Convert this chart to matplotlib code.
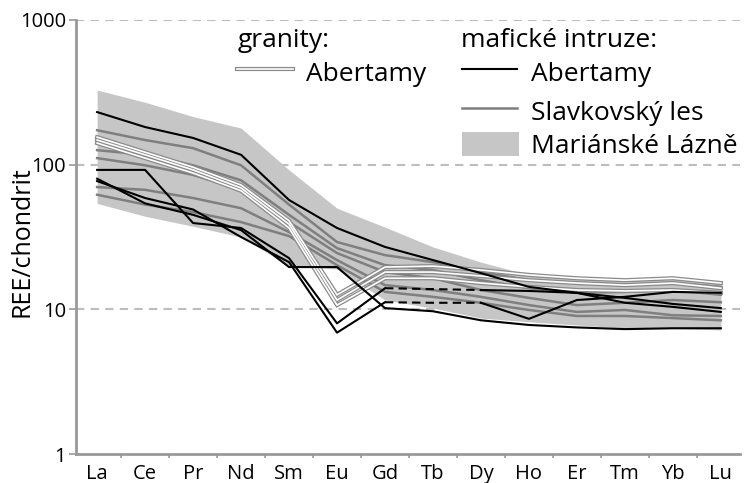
import numpy as np
import matplotlib
matplotlib.use('Agg')
import matplotlib.pyplot as plt
from matplotlib.lines import Line2D
from matplotlib.patches import Rectangle

plt.rcParams['font.family'] = ['Open Sans', 'DejaVu Sans']

# ── Data (chondrite-normalised REE) ──────────────────────────────────────────
ree = ['La', 'Ce', 'Pr', 'Nd', 'Sm', 'Eu', 'Gd', 'Tb', 'Dy', 'Ho', 'Er', 'Tm', 'Yb', 'Lu']

# Mariánské Lázně field (envelope)
ml_upper = [328, 270, 215, 179, 92, 50, 37, 27, 21.2, 17.3, 16.4, 15.9, 16.4, 15.5]
ml_lower = [54, 44, 37.5, 31.6, 19.9, 19.0, 11.6, 10.2, 8.7, 8.2, 7.8, 7.4, 7.4, 7.2]

# Slavkovský les (grey lines)
sl_1 = [173, 148, 130, 99, 53, 29.2, 23.7, 21.2, 18.1, 15.9, 15.2, 14.7, 15.2, 14.3]
sl_2 = [126, 117, 99, 78, 45, 26.5, 20.2, 18.7, 15.9, 14.0, 13.0, 13.2, 13.6, 12.6]
sl_3 = [111, 99, 85, 67, 40.1, 24.5, 18.1, 16.4, 13.6, 12.0, 10.7, 11.1, 11.6, 11.2]
sl_4 = [70, 67, 58.8, 50, 34.2, 21.9, 14.7, 13.6, 12.2, 10.7, 9.6, 9.9, 9.1, 9.0]
sl_5 = [62, 53, 47, 40.1, 32.1, 20.2, 13.2, 12.2, 11.1, 9.9, 9.0, 9.0, 8.7, 8.4]

# granites Abertamy (white lines)
gr_1 = [155, 122, 96, 72.3, 41, 12.6, 19.6, 19.9, 18.7, 17.3, 16.4, 15.9, 16.4, 15.2]
gr_2 = [148, 117, 92, 69, 38.8, 11.6, 18.1, 18.1, 17.0, 15.9, 15.2, 14.7, 15.2, 14.0]
gr_3 = [141, 111, 87.5, 66, 36.5, 10.7, 16.4, 16.4, 15.2, 14.3, 13.6, 13.4, 13.6, 13.0]

# mafic intrusions Abertamy (black lines)
ab_1 = [231, 182, 153, 117, 57, 36.5, 27.0, 21.9, 17.8, 14.3, 13.0, 12.0, 10.9, 10.2]
ab_2 = [92, 92, 39.5, 36.5, 22.6, 8.0, 14.0, 13.8, 13.6, 13.4, 13.0, 11.1, 10.4, 9.6]
ab_3 = [80, 54, 45, 35.3, 19.6, 19.6, 10.2, 9.7, 8.4, 7.8, 7.5, 7.3, 7.4, 7.4]
ab_4 = [77, 58.8, 49, 31.6, 21.2, 6.9, 11.2, 11.1, 11.1, 8.6, 11.6, 12.2, 13.2, 13.0]
# Tb not measured in these two -> dashed between Gd and Dy
ab_dashed = [ab_2, ab_4]

yticks = [1, 10, 100, 1000]
ytick_labels = ['1', '10', '100', '1000']

# ── Figure ───────────────────────────────────────────────────────────────────
fig = plt.figure(figsize=(7.46, 4.83), dpi=100)
ax = fig.add_axes([0.1019, 0.060, 0.8901, 0.8986])
x = np.arange(len(ree))

ax.fill_between(x, ml_lower, ml_upper, color='#c6c6c6', lw=0, zorder=1)

for s in [sl_1, sl_2, sl_3, sl_4, sl_5]:
    ax.plot(x, s, color='#7f7f7f', lw=1.8, zorder=2)

for s in [gr_1, gr_2, gr_3]:
    ax.plot(x, s, color='#8a8a8a', lw=3.0, zorder=3, solid_joinstyle='miter')
    ax.plot(x, s, color='white', lw=1.2, zorder=3.1, solid_joinstyle='miter')

iGd, iDy = ree.index('Gd'), ree.index('Dy')
for s in [ab_1, ab_3]:
    ax.plot(x, s, color='black', lw=1.5, zorder=4)
for s in ab_dashed:
    s = np.array(s)
    ax.plot(x[:iGd + 1], s[:iGd + 1], color='black', lw=1.5, zorder=4)
    ax.plot(x[iGd:iDy + 1], s[iGd:iDy + 1], color='black', lw=1.5, ls=(0, (4, 2.5)), zorder=4)
    ax.plot(x[iDy:], s[iDy:], color='black', lw=1.5, zorder=4)

ax.set_yscale('log')
ax.set_ylim(1, 1000)
ax.set_xlim(-0.44, 13.4)
ax.set_yticks(yticks)
ax.set_yticklabels(ytick_labels)
ax.yaxis.set_minor_locator(matplotlib.ticker.NullLocator())
for v in yticks[1:]:
    ax.axhline(v, color='#bdbdbd', lw=1.5, ls=(0, (4, 3)), zorder=0)

ax.set_xticks(x)
ax.set_xticklabels(ree)
ax.set_xticks(x[:-1] + 0.5, minor=True)
ax.tick_params(axis='x', which='major', length=0, pad=7, labelsize=14.5)
ax.tick_params(axis='x', which='minor', length=3, color='#999999', width=1.2)
ax.tick_params(axis='y', length=5, color='#999999', width=1.2, labelsize=14.5, pad=2)

for sp in ['top', 'right']:
    ax.spines[sp].set_visible(False)
for sp in ['left', 'bottom']:
    ax.spines[sp].set_color('#999999')
    ax.spines[sp].set_linewidth(2.0)

ax.set_ylabel('REE/chondrit', fontsize=18)
ax.yaxis.set_label_coords(-0.063, 0.49)

# ── Legend (drawn by hand, figure pixel coordinates) ─────────────────────────
W, H = 746, 483
def fx(px): return px / W
def fy(py): return 1 - py / H

fs = 19
fig.text(fx(238), fy(47), 'granity:', fontsize=fs, va='baseline')
fig.add_artist(Line2D([fx(237), fx(293)], [fy(69), fy(69)], color='#8a8a8a', lw=3.0))
fig.add_artist(Line2D([fx(237), fx(293)], [fy(69), fy(69)], color='white', lw=1.2))
fig.text(fx(306), fy(81), 'Abertamy', fontsize=fs, va='baseline')

fig.text(fx(461), fy(47), 'mafické intruze:', fontsize=fs, va='baseline')
fig.add_artist(Line2D([fx(462), fx(517)], [fy(69), fy(69)], color='black', lw=1.5))
fig.text(fx(531), fy(81), 'Abertamy', fontsize=fs, va='baseline')
fig.add_artist(Line2D([fx(462), fx(517)], [fy(108), fy(108)], color='#7f7f7f', lw=1.8))
fig.text(fx(531), fy(120), 'Slavkovský les', fontsize=fs, va='baseline')
fig.add_artist(Rectangle((fx(462), fy(156)), fx(57), 24 / H, transform=fig.transFigure,
                         color='#c6c6c6', lw=0))
fig.text(fx(531), fy(153), 'Mariánské Lázně', fontsize=fs, va='baseline')

fig.savefig('out.png', dpi=100)
